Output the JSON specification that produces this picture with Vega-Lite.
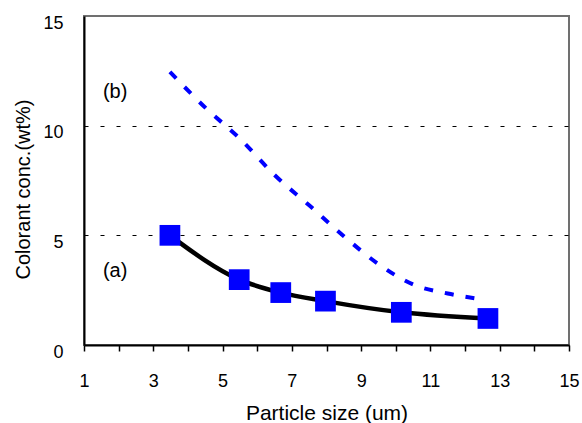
{
  "$schema": "https://vega.github.io/schema/vega-lite/v6.json",
  "width": 485,
  "height": 329,
  "autosize": {"type": "none"},
  "padding": {"left": 84, "top": 16, "right": 13, "bottom": 78},
  "background": "white",
  "config": {
    "font": "Liberation Sans",
    "view": {"stroke": "#707070", "strokeWidth": 2}
  },
  "datasets": {
    "a": [
      {"x": 3.48, "y": 5.0},
      {"x": 5.48, "y": 2.98},
      {"x": 6.68, "y": 2.39},
      {"x": 7.97, "y": 2.0},
      {"x": 10.16, "y": 1.49},
      {"x": 12.66, "y": 1.21}
    ],
    "b": [
      {"x": 3.48, "y": 12.45},
      {"x": 4.53, "y": 10.78},
      {"x": 5.5, "y": 9.41},
      {"x": 6.5, "y": 7.75},
      {"x": 7.5, "y": 6.37},
      {"x": 8.5, "y": 4.96},
      {"x": 9.5, "y": 3.69},
      {"x": 10.5, "y": 2.76},
      {"x": 11.5, "y": 2.35},
      {"x": 12.36, "y": 2.11}
    ],
    "labels": [
      {"x": 1.9, "y": 11.54, "label": "(b)"},
      {"x": 1.9, "y": 3.36, "label": "(a)"}
    ]
  },
  "encoding": {
    "x": {
      "field": "x",
      "type": "quantitative",
      "scale": {"domain": [1, 15], "nice": false, "zero": false},
      "axis": {
        "title": "Particle size (um)",
        "values": [1, 2, 3, 4, 5, 6, 7, 8, 9, 10, 11, 12, 13, 14, 15],
        "labelExpr": "datum.value % 2 == 1 ? datum.label : ''",
        "labelOverlap": false,
        "labelFlush": false,
        "grid": false,
        "tickSize": 6,
        "tickColor": "black",
        "tickWidth": 1.5,
        "domainColor": "black",
        "domainWidth": 2,
        "labelFontSize": 18,
        "labelColor": "black",
        "labelPadding": 21,
        "titleFontSize": 21,
        "titleFontWeight": "normal",
        "titleColor": "black",
        "titlePadding": 12
      }
    },
    "y": {
      "field": "y",
      "type": "quantitative",
      "scale": {"domain": [0, 15], "nice": false},
      "axis": {
        "title": "Colorant conc.(wt%)",
        "values": [0, 5, 10, 15],
        "ticks": false,
        "labelPadding": 21,
        "labelOffset": 7,
        "labelFontSize": 18,
        "labelColor": "black",
        "grid": true,
        "gridColor": "black",
        "gridDash": [4, 12],
        "gridWidth": 1,
        "gridOpacity": {"condition": {"test": "datum.value > 0 && datum.value < 15", "value": 1}, "value": 0},
        "domainColor": "black",
        "domainWidth": 2,
        "titleFontSize": 20,
        "titleFontWeight": "normal",
        "titleColor": "black",
        "titlePadding": 9,
        "titleY": 173
      }
    }
  },
  "layer": [
    {
      "data": {"name": "b"},
      "mark": {"type": "line", "color": "#0000ff", "strokeWidth": 4, "strokeDash": [9, 12], "interpolate": "monotone"}
    },
    {
      "data": {"name": "a"},
      "mark": {"type": "line", "color": "black", "strokeWidth": 4.5, "interpolate": "monotone"}
    },
    {
      "data": {"name": "a"},
      "mark": {"type": "square", "size": 430, "color": "#0000ff", "filled": true, "opacity": 1}
    },
    {
      "data": {"name": "labels"},
      "mark": {"type": "text", "fontSize": 20, "color": "black", "align": "center", "baseline": "middle"},
      "encoding": {"text": {"field": "label", "type": "nominal"}}
    }
  ]
}
